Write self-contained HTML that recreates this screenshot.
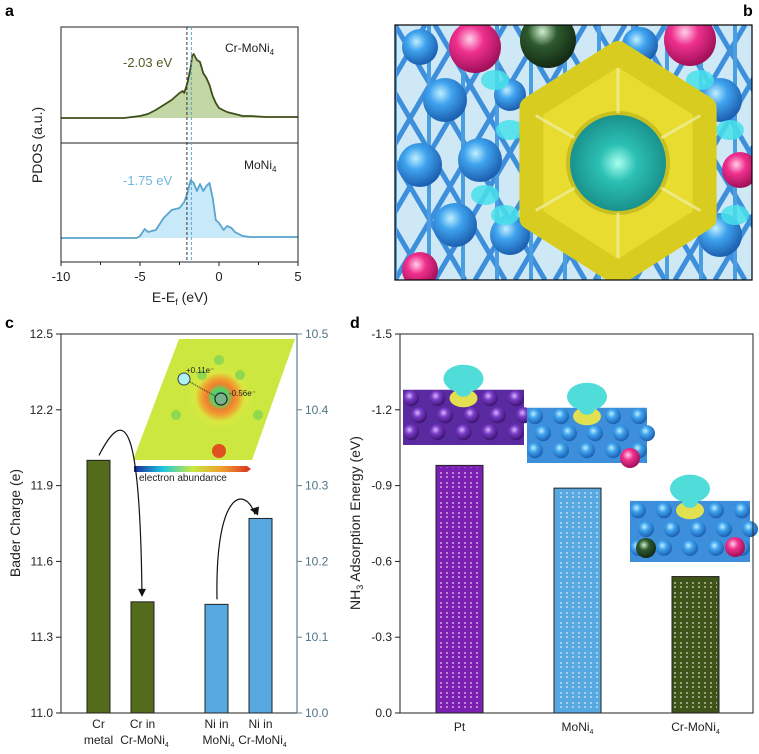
<!DOCTYPE html>
<html><head><meta charset="utf-8"><style>
body{margin:0;background:#fff;}
svg{display:block;font-family:"Liberation Sans",Arial,sans-serif;}
</style></head><body>
<svg id="fig" width="759" height="754" viewBox="0 0 759 754">
<defs>
<radialGradient id="gBlue" cx="40%" cy="35%" r="65%"><stop offset="0" stop-color="#bfefff"/><stop offset="0.4" stop-color="#3fa3ee"/><stop offset="1" stop-color="#1c5fb0"/></radialGradient>
<radialGradient id="gPink" cx="40%" cy="35%" r="65%"><stop offset="0" stop-color="#ffd0ea"/><stop offset="0.4" stop-color="#f0308e"/><stop offset="1" stop-color="#a01058"/></radialGradient>
<radialGradient id="gGreen" cx="40%" cy="35%" r="65%"><stop offset="0" stop-color="#d0f0d0"/><stop offset="0.4" stop-color="#2e5a2e"/><stop offset="1" stop-color="#142a14"/></radialGradient>
<radialGradient id="gPurple" cx="40%" cy="35%" r="65%"><stop offset="0" stop-color="#d8b8ff"/><stop offset="0.4" stop-color="#7a3cc8"/><stop offset="1" stop-color="#3c1470"/></radialGradient>
<radialGradient id="gTeal" cx="50%" cy="50%" r="55%"><stop offset="0" stop-color="#a8fff0"/><stop offset="0.35" stop-color="#2cc0b4"/><stop offset="1" stop-color="#168a86"/></radialGradient>
<radialGradient id="gHeat" cx="50%" cy="50%" r="50%"><stop offset="0" stop-color="#30c0a0"/><stop offset="0.25" stop-color="#60d060"/><stop offset="0.4" stop-color="#f08030"/><stop offset="0.55" stop-color="#f0a030"/><stop offset="0.75" stop-color="#d8e840"/><stop offset="1" stop-color="#cce840"/></radialGradient>
<linearGradient id="gBar" x1="0" x2="1"><stop offset="0" stop-color="#1a2aa0"/><stop offset="0.25" stop-color="#20c8e0"/><stop offset="0.5" stop-color="#c8e840"/><stop offset="0.75" stop-color="#f0a030"/><stop offset="1" stop-color="#d83020"/></linearGradient>
<pattern id="dots" width="12" height="10" patternUnits="userSpaceOnUse"><circle cx="3" cy="3" r="0.9" fill="#fff" opacity="0.8"/><circle cx="9" cy="3" r="0.9" fill="#fff" opacity="0.8"/><circle cx="3" cy="7" r="0.9" fill="#fff" opacity="0.8"/><circle cx="9" cy="7" r="0.9" fill="#fff" opacity="0.8"/></pattern>
<clipPath id="clipB"><rect x="395" y="25" width="357" height="255"/></clipPath>
</defs>

<text x="5" y="16" font-size="16" font-weight="bold">a</text>
<text x="743" y="16" font-size="16" font-weight="bold">b</text>
<text x="5" y="328" font-size="16" font-weight="bold">c</text>
<text x="350" y="328" font-size="16" font-weight="bold">d</text>

<g id="pa"></g>
<g id="pb" clip-path="url(#clipB)"></g>
<rect x="395" y="25" width="357" height="255" fill="none" stroke="#000" stroke-width="1.2"/>
<g id="pc"></g>
<g id="pd"></g>
</svg>
<script>
const NS="http://www.w3.org/2000/svg";
function mk(p,t,a,txt){const e=document.createElementNS(NS,t);for(const k in a)e.setAttribute(k,a[k]);if(txt!==undefined)e.textContent=txt;p.appendChild(e);return e;}

// ---------- Panel a data ----------
const pdosE1=[-10,-6,-5.5,-5,-4.5,-4,-3.5,-3,-2.5,-2.3,-2.2,-2.0,-1.8,-1.7,-1.6,-1.4,-1.2,-1.0,-0.8,-0.6,-0.4,-0.2,0,0.5,1,1.5,2,3,5];
const pdosCr=[0,0,1,2,4,8,13,18,25,27,25,35,50,62,64,58,56,45,40,33,22,15,10,6,4,2,2,1,1];
const pdosE2=[-10,-5.2,-5,-4.7,-4.5,-4,-3.5,-3,-2.5,-2.2,-2.0,-1.8,-1.6,-1.4,-1.2,-1.0,-0.8,-0.6,-0.4,-0.2,0,0.3,0.5,0.8,1.0,1.5,2,3,5];
const pdosMo=[0,0,2,9,6,8,20,28,30,36,45,58,55,47,54,47,52,55,40,18,15,8,12,10,6,2,1,1,1];
const dbandCenters=[-2.03,-1.75];
const pdosTicks=[-10,-5,0,5];

const pa=document.getElementById('pa');
const ax={x0:61,x1:298,e0:-10,e1:5};
const X=e=>ax.x0+(e-ax.e0)/(ax.e1-ax.e0)*(ax.x1-ax.x0);
function curve(E,V,base,stroke,fill,name){
  let d=E.map((e,i)=>(i?'L':'M')+X(e).toFixed(1)+','+(base-V[i]).toFixed(1)).join(' ');
  const f=mk(pa,'path',{d:d+` L${X(E[E.length-1])},${base} L${X(E[0])},${base} Z`,fill:fill,stroke:'none'});
  
  
  const l=mk(pa,'path',{d:d,fill:'none',stroke:stroke,'stroke-width':1.8,'stroke-linejoin':'round'});
  
  
}
curve(pdosE1,pdosCr,118,'#3f4f1c','#c3d6a6','pdos-cr-moni4');
curve(pdosE2,pdosMo,238,'#5aa4cf','#c8e9f8','pdos-moni4');
mk(pa,'rect',{x:61,y:27,width:237,height:235,fill:'none',stroke:'#222','stroke-width':1});
mk(pa,'line',{x1:61,x2:298,y1:143,y2:143,stroke:'#222','stroke-width':1});
dbandCenters.forEach((c,i)=>{const l=mk(pa,'line',{x1:X(c),x2:X(c),y1:27,y2:262,stroke:i?'#5aa4cf':'#333','stroke-width':1,'stroke-dasharray':'3,2'});
 
 });
pdosTicks.forEach(t=>{mk(pa,'line',{x1:X(t),x2:X(t),y1:262,y2:266,stroke:'#222'});
 const tx=mk(pa,'text',{x:X(t),y:281,'font-size':13,'text-anchor':'middle',fill:'#222'},String(t));
 
 });
[-7.5,-2.5,2.5].forEach(t=>{mk(pa,'line',{x1:X(t),x2:X(t),y1:262,y2:265,stroke:'#222'});});
const l1=mk(pa,'text',{x:225,y:52,'font-size':12,fill:'#222',},'Cr-MoNi');
mk(l1,'tspan',{'font-size':8,dy:3},'4');
mk(pa,'text',{x:123,y:67,'font-size':13,fill:'#4e5e22',},'-2.03 eV');
const l2=mk(pa,'text',{x:244,y:169,'font-size':12,fill:'#222',},'MoNi');
mk(l2,'tspan',{'font-size':8,dy:3},'4');
mk(pa,'text',{x:123,y:185,'font-size':13,fill:'#6fb6de',},'-1.75 eV');
mk(pa,'text',{x:42,y:145,'font-size':14,fill:'#222','text-anchor':'middle',transform:'rotate(-90 42 145)',},'PDOS (a.u.)');
const xt=mk(pa,'text',{x:180,y:302,'font-size':14,fill:'#222','text-anchor':'middle',},'E-E');
mk(xt,'tspan',{'font-size':9,dy:3},'f');mk(xt,'tspan',{dy:-3},' (eV)');

// ---------- Panel b (structure image) ----------
const pb=document.getElementById('pb');
mk(pb,'rect',{x:395,y:25,width:357,height:255,fill:'#cfe8f6'});
for(let i=-6;i<14;i++){mk(pb,'line',{x1:395+i*40,y1:25,x2:395+i*40+150,y2:280,stroke:'#3d8fdc','stroke-width':5});
 mk(pb,'line',{x1:395+i*40+150,y1:25,x2:395+i*40,y2:280,stroke:'#3d8fdc','stroke-width':5});
 mk(pb,'line',{x1:395+i*34,y1:25,x2:395+i*34,y2:280,stroke:'#4a9de0','stroke-width':4});}
[[420,47,'gBlue',18],[475,47,'gPink',26],[548,40,'gGreen',28],[690,40,'gPink',26],[445,100,'gBlue',22],[420,165,'gBlue',22],[480,160,'gBlue',22],[455,225,'gBlue',22],[510,235,'gBlue',20],[720,100,'gBlue',22],[740,170,'gPink',18],[720,235,'gBlue',22],[420,270,'gPink',18],[510,95,'gBlue',16],[640,45,'gBlue',18]].forEach(b=>{
 const c=mk(pb,'circle',{cx:b[0],cy:b[1],r:b[3],fill:`url(#${b[2]})`});
 
 });
[[495,80],[510,130],[485,195],[700,80],[730,130],[735,215],[505,215]].forEach(p=>mk(pb,'ellipse',{cx:p[0],cy:p[1],rx:14,ry:10,fill:'#48e0ea',opacity:0.85}));
const hx=[];for(let k=0;k<6;k++){const a=Math.PI/3*k+Math.PI/6;hx.push([618+100*Math.cos(a),163+110*Math.sin(a)]);}
mk(pb,'path',{d:'M'+hx.map(p=>p.join(',')).join(' L')+' Z',fill:'#e8dc30',stroke:'#d8cc20','stroke-width':24,'stroke-linejoin':'round'});
mk(pb,'circle',{cx:618,cy:163,r:52,fill:'#c8c020'});
mk(pb,'circle',{cx:618,cy:163,r:48,fill:'url(#gTeal)'});
for(let k=0;k<6;k++){const a=Math.PI/3*k-Math.PI/2;mk(pb,'line',{x1:618+50*Math.cos(a),y1:163+50*Math.sin(a),x2:618+95*Math.cos(a),y2:163+95*Math.sin(a),stroke:'#f0f0a8','stroke-width':3,opacity:0.7});}

// ---------- Panel c data ----------
const baderCats=['Cr|metal','Cr in|Cr-MoNi4','Ni in|MoNi4','Ni in|Cr-MoNi4'];
const baderVals=[12.0,11.44,11.43,11.77];
const baderColors=['#536b1a','#536b1a','#57a8e0','#57a8e0'];
const baderLeftTicks=[11.0,11.3,11.6,11.9,12.2,12.5];
const baderRightTicks=[10.0,10.1,10.2,10.3,10.4,10.5];
const pc=document.getElementById('pc');
const cy0=713,cy1=334,cmin=11.0,cmax=12.5;
const CY=v=>cy0-(v-cmin)/(cmax-cmin)*(cy0-cy1);
const barX=[87,131,205,249];
const ins=mk(pc,'g',{});
mk(ins,'polygon',{points:'179,339 295,339 252,460 133,460',fill:'#cce840'});
mk(ins,'circle',{cx:220,cy:397,r:33,fill:'url(#gHeat)'});
mk(ins,'circle',{cx:219,cy:451,r:7,fill:'#e05020'});
[[219,360],[176,415],[258,415],[202,375],[240,375]].forEach(p=>mk(ins,'circle',{cx:p[0],cy:p[1],r:5,fill:'#90d850'}));
mk(ins,'circle',{cx:184,cy:379,r:6,fill:'#b0f0f0',stroke:'#345',"stroke-width":1});
mk(ins,'circle',{cx:221,cy:399,r:6,fill:'#7ab08a',stroke:'#222',"stroke-width":1.2});
mk(ins,'line',{x1:190,y1:382,x2:215,y2:396,stroke:'#222','stroke-dasharray':'1,1'});
mk(ins,'text',{x:186,y:373,'font-size':8,fill:'#222'},'+0.11e⁻');
mk(ins,'text',{x:229,y:396,'font-size':8,fill:'#222'},'-0.56e⁻');
mk(ins,'polygon',{points:'134,466 247,466 251,469 247,472 134,472',fill:'url(#gBar)'});
mk(ins,'text',{x:139,y:481,'font-size':10,fill:'#222'},'electron abundance');
baderVals.forEach((v,i)=>{const r=mk(pc,'rect',{x:barX[i],y:CY(v),width:23,height:cy0-CY(v),fill:baderColors[i],stroke:'#222','stroke-width':1});
 
 
 const lb=baderCats[i].split('|');
 const t=mk(pc,'text',{x:barX[i]+11.5,y:728,'font-size':12,'text-anchor':'middle',fill:'#222'},lb[0]);
 
 
 const m=lb[1].match(/^(.*?)(\d)$/);
 const t2=mk(pc,'text',{x:barX[i]+11.5+(m?2:0),y:744,'font-size':12,'text-anchor':'middle',fill:'#222'},m?m[1]:lb[1]);
 if(m)mk(t2,'tspan',{'font-size':7,dy:3},m[2]);});
mk(pc,'path',{d:`M${barX[0]+12},${CY(baderVals[0])-5} C125,405 140,420 142,${CY(baderVals[1])-6}`,fill:'none',stroke:'#111','stroke-width':1.2});
mk(pc,'path',{d:`M138,${CY(baderVals[1])-13} L142,${CY(baderVals[1])-5} L146,${CY(baderVals[1])-13}`,fill:'#111'});
mk(pc,'path',{d:`M217,${CY(baderVals[2])-5} C215,490 245,485 255,${CY(baderVals[3])-4}`,fill:'none',stroke:'#111','stroke-width':1.2});
mk(pc,'path',{d:`M250,${CY(baderVals[3])-9} L258,${CY(baderVals[3])-3} L259,${CY(baderVals[3])-12}`,fill:'#111'});
mk(pc,'rect',{x:61,y:334,width:236,height:379,fill:'none',stroke:'#222','stroke-width':1});
mk(pc,'line',{x1:297,x2:297,y1:334,y2:713,stroke:'#5e8090','stroke-width':1.2});
baderLeftTicks.forEach(t=>{mk(pc,'line',{x1:61,x2:56,y1:CY(t),y2:CY(t),stroke:'#222'});
 const tx=mk(pc,'text',{x:53,y:CY(t)+4,'font-size':12,'text-anchor':'end',fill:'#222'},t.toFixed(1));
 
 });
baderRightTicks.forEach((t,i)=>{const y=CY(baderLeftTicks[i]);mk(pc,'line',{x1:297,x2:302,y1:y,y2:y,stroke:'#5e8090'});
 const tx=mk(pc,'text',{x:305,y:y+4,'font-size':12,fill:'#4f7484'},t.toFixed(1));
 
 });
mk(pc,'text',{x:20,y:523,'font-size':14,fill:'#222','text-anchor':'middle',transform:'rotate(-90 20 523)',},'Bader Charge (e)');

// ---------- Panel d data ----------
const adsCats=['Pt','MoNi4','Cr-MoNi4'];
const adsVals=[-0.98,-0.89,-0.54];
const adsColors=['#7a1fb0','#57a8e0','#3f5418'];
const adsTicks=[0.0,-0.3,-0.6,-0.9,-1.2,-1.5];
const pd=document.getElementById('pd');
const dy0=713,dy1=334,dmin=0,dmax=-1.5;
const DY=v=>dy0-(v-dmin)/(dmax-dmin)*(dy0-dy1);
const dBarX=[436,554,672];
adsVals.forEach((v,i)=>{const r=mk(pd,'rect',{x:dBarX[i],y:DY(v),width:47,height:dy0-DY(v),fill:adsColors[i],stroke:'#222','stroke-width':1});
 
 
 mk(pd,'rect',{x:dBarX[i]+2,y:DY(v)+2,width:43,height:dy0-DY(v)-3,fill:'url(#dots)'});
 const m=adsCats[i].match(/^(.*?)(\d)$/);
 const t=mk(pd,'text',{x:dBarX[i]+23.5,y:731,'font-size':12,'text-anchor':'middle',fill:'#222'},m?m[1]:adsCats[i]);
 
 
 if(m)mk(t,'tspan',{'font-size':7,dy:3},m[2]);});
function slab(x,y,w,h,col,name){const g=mk(pd,'g',{});
 
 
 mk(g,'rect',{x:x,y:y+h*0.35,width:w,height:h*0.65,fill:col==='p'?'#5a2aa0':'#3d8fdc'});
 const grad=col==='p'?'gPurple':'gBlue';
 for(let r=0;r<3;r++)for(let c=0;c<5;c++)mk(g,'circle',{cx:x+8+c*(w-16)/4+(r%2)*8,cy:y+h*0.45+r*h*0.2,r:8,fill:`url(#${grad})`});
 mk(g,'ellipse',{cx:x+w/2,cy:y+h*0.22,rx:20,ry:14,fill:'#50dcd8'});
 mk(g,'ellipse',{cx:x+w/2,cy:y+h*0.45,rx:14,ry:9,fill:'#e0e050'});
 mk(g,'ellipse',{cx:x+w/2,cy:y+h*0.35,rx:8,ry:7,fill:'#50dcd8'});
 return g;}
slab(403,360,121,85,'p','pt-structure');
slab(527,378,120,85,'b','moni4-structure');
const g3=slab(630,468,120,94,'b','cr-moni4-structure');
mk(g3,'circle',{cx:646,cy:548,r:10,fill:'url(#gGreen)'});
mk(g3,'circle',{cx:735,cy:547,r:10,fill:'url(#gPink)'});
mk(pd,'circle',{cx:630,cy:458,r:10,fill:'url(#gPink)'});
mk(pd,'rect',{x:400,y:334,width:353,height:379,fill:'none',stroke:'#222','stroke-width':1});
adsTicks.forEach(t=>{mk(pd,'line',{x1:400,x2:395,y1:DY(t),y2:DY(t),stroke:'#222'});
 const tx=mk(pd,'text',{x:392,y:DY(t)+4,'font-size':12,'text-anchor':'end',fill:'#222'},t.toFixed(1));
 
 });
const yt=mk(pd,'text',{x:360,y:523,'font-size':14,fill:'#222','text-anchor':'middle',transform:'rotate(-90 360 523)',},'NH');
mk(yt,'tspan',{'font-size':9,dy:3},'3');mk(yt,'tspan',{dy:-3},' Adsorption Energy (eV)');
</script>
</body></html>
